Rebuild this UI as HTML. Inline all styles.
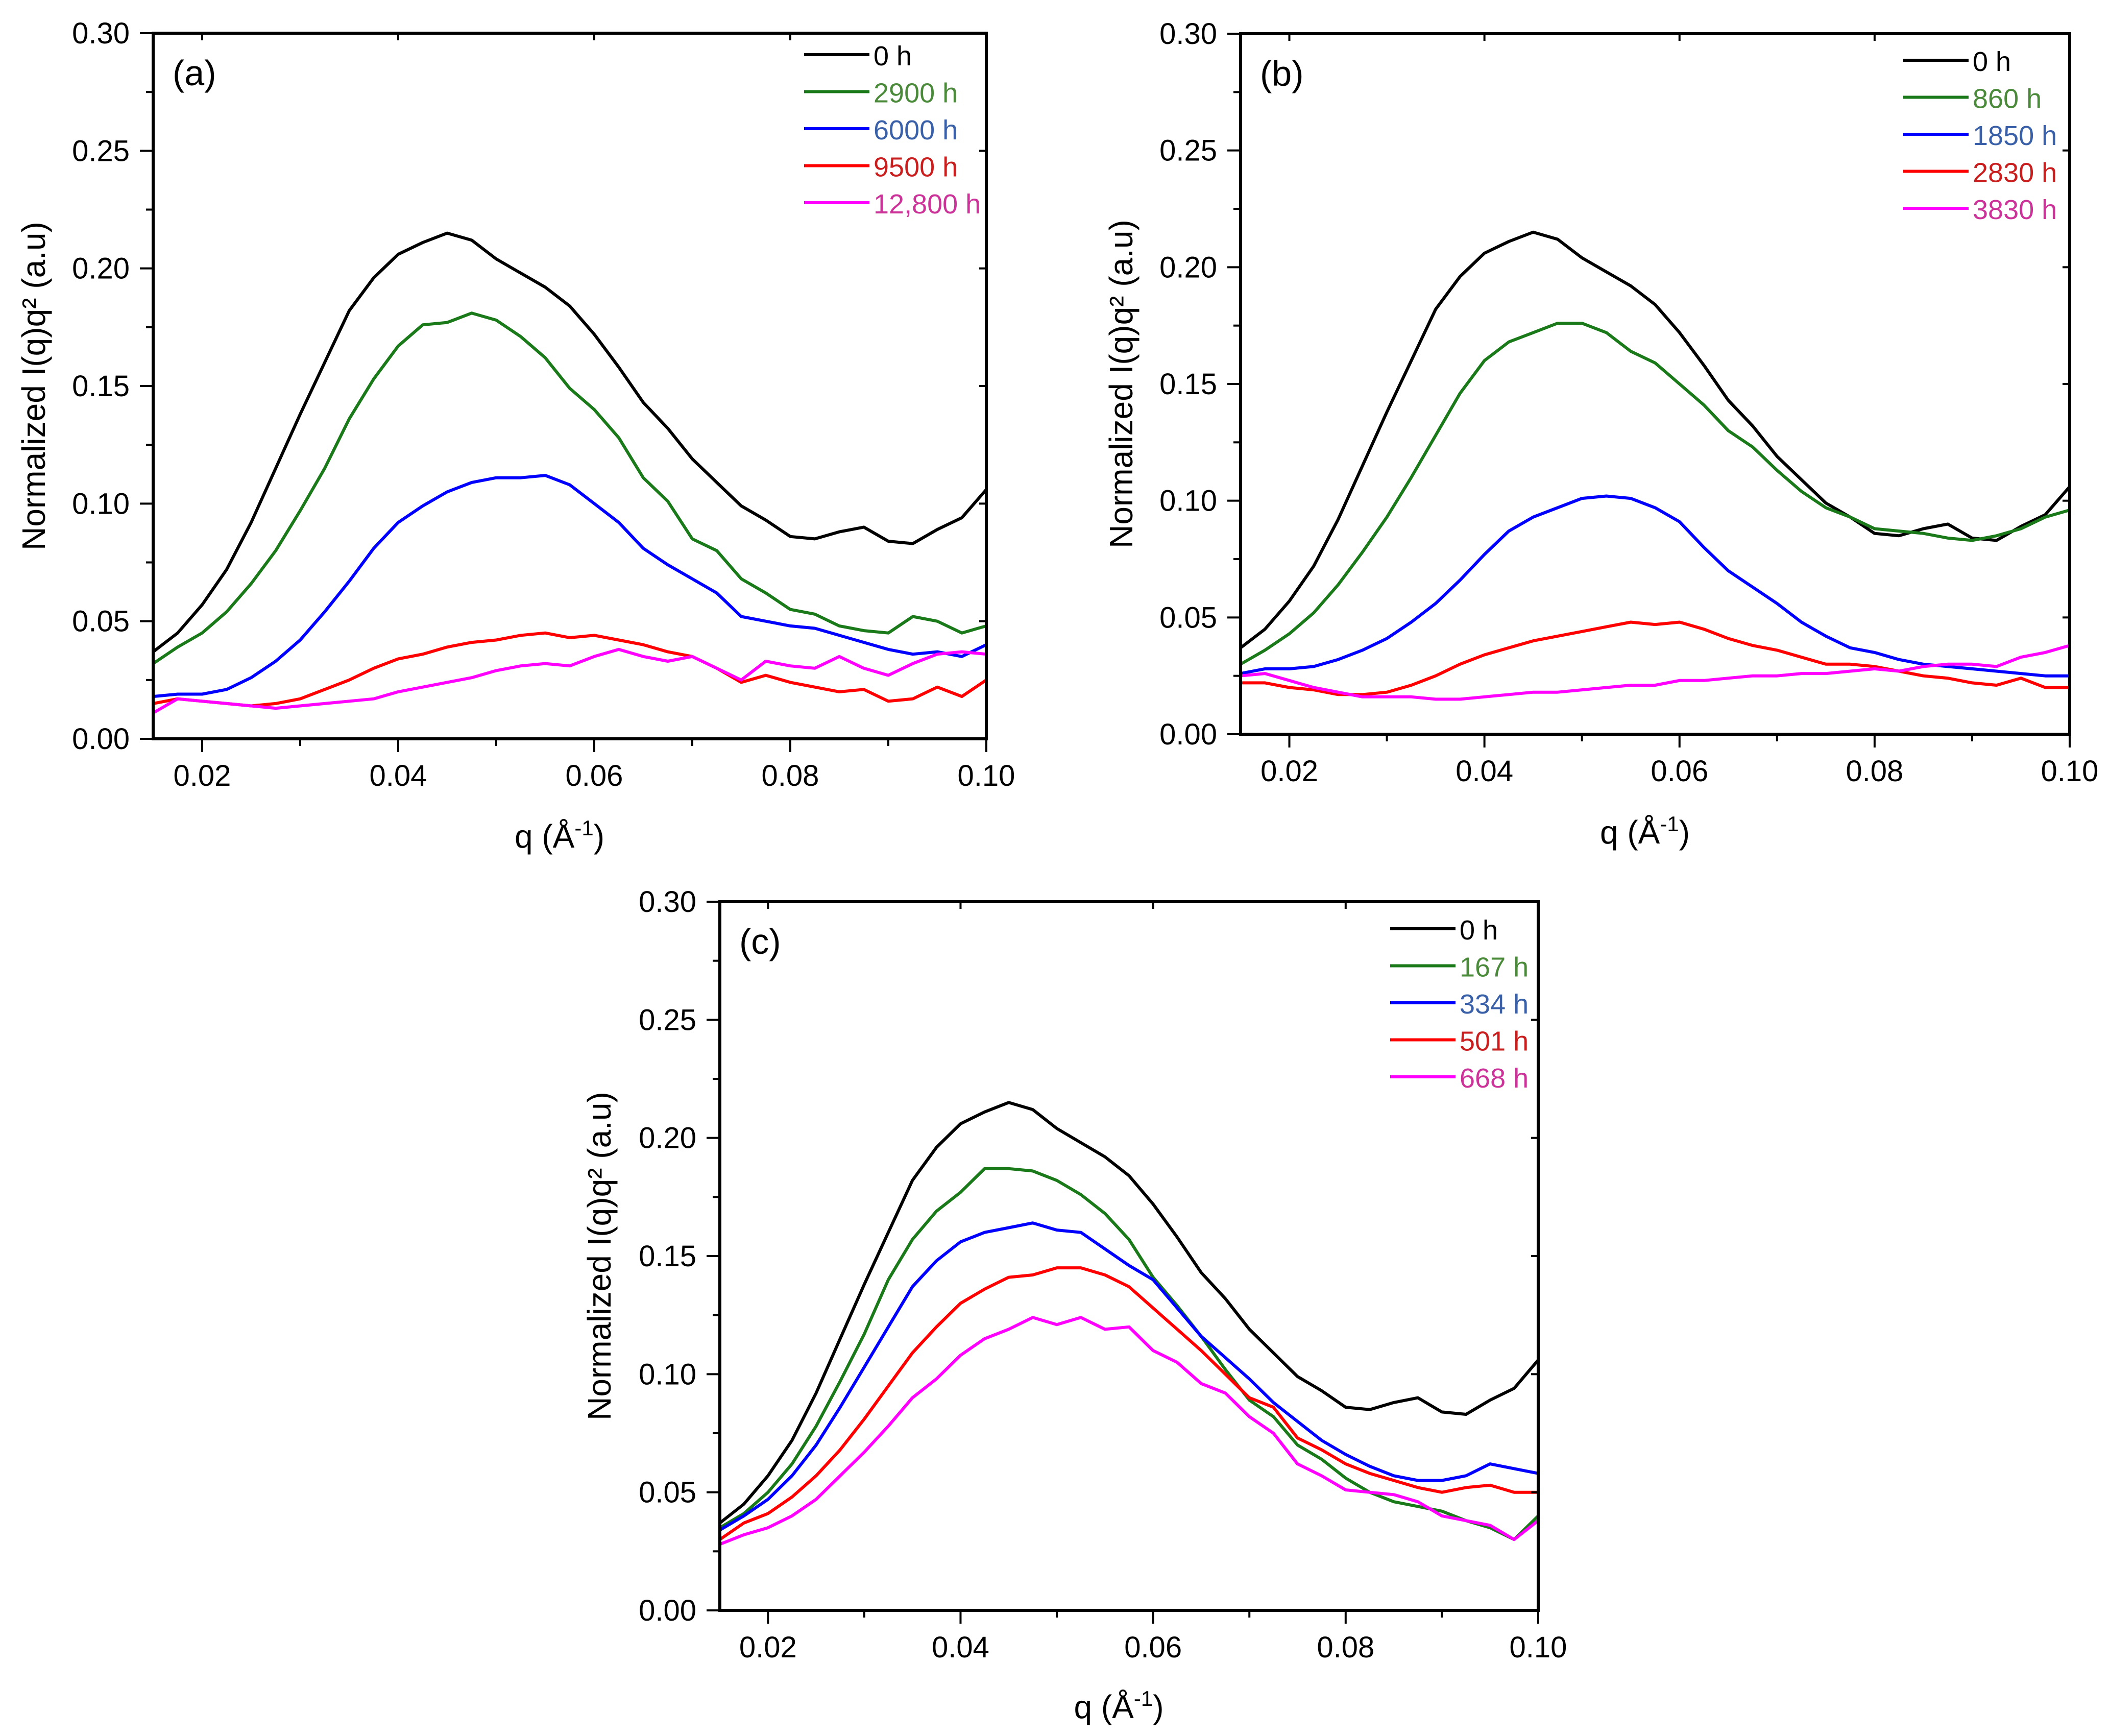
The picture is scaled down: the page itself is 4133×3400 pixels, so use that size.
<!DOCTYPE html>
<html><head><meta charset="utf-8"><style>
html,body{margin:0;padding:0;background:#fff;}
svg{display:block;font-family:"Liberation Sans",Arial,sans-serif;}
</style></head><body>
<svg id="fig" width="4133" height="3400" viewBox="0 0 4133 3400" xmlns="http://www.w3.org/2000/svg"></svg>
<script>
const qValues=[0.015,0.0175,0.02,0.0225,0.025,0.0275,0.03,0.0325,0.035,0.0375,0.04,0.0425,0.045,0.0475,0.05,0.0525,0.055,0.0575,0.06,0.0625,0.065,0.0675,0.07,0.0725,0.075,0.0775,0.08,0.0825,0.085,0.0875,0.09,0.0925,0.095,0.0975,0.10];
const xTicks=[0.02,0.04,0.06,0.08,0.10];
const xTickLabels=["0.02","0.04","0.06","0.08","0.10"];
const yTicks=[0,0.05,0.10,0.15,0.20,0.25,0.30];
const yTickLabels=["0.00","0.05","0.10","0.15","0.20","0.25","0.30"];
const base0h=[0.037,0.045,0.057,0.072,0.092,0.115,0.138,0.160,0.182,0.196,0.206,0.211,0.215,0.212,0.204,0.198,0.192,0.184,0.172,0.158,0.143,0.132,0.119,0.109,0.099,0.093,0.086,0.085,0.088,0.090,0.084,0.083,0.089,0.094,0.106];
const a2900=[0.032,0.039,0.045,0.054,0.066,0.080,0.097,0.115,0.136,0.153,0.167,0.176,0.177,0.181,0.178,0.171,0.162,0.149,0.140,0.128,0.111,0.101,0.085,0.080,0.068,0.062,0.055,0.053,0.048,0.046,0.045,0.052,0.050,0.045,0.048];
const a6000=[0.018,0.019,0.019,0.021,0.026,0.033,0.042,0.054,0.067,0.081,0.092,0.099,0.105,0.109,0.111,0.111,0.112,0.108,0.100,0.092,0.081,0.074,0.068,0.062,0.052,0.050,0.048,0.047,0.044,0.041,0.038,0.036,0.037,0.035,0.040];
const a9500=[0.015,0.017,0.016,0.015,0.014,0.015,0.017,0.021,0.025,0.030,0.034,0.036,0.039,0.041,0.042,0.044,0.045,0.043,0.044,0.042,0.040,0.037,0.035,0.030,0.024,0.027,0.024,0.022,0.020,0.021,0.016,0.017,0.022,0.018,0.025];
const a12800=[0.011,0.017,0.016,0.015,0.014,0.013,0.014,0.015,0.016,0.017,0.020,0.022,0.024,0.026,0.029,0.031,0.032,0.031,0.035,0.038,0.035,0.033,0.035,0.030,0.025,0.033,0.031,0.030,0.035,0.030,0.027,0.032,0.036,0.037,0.036];
const b860=[0.030,0.036,0.043,0.052,0.064,0.078,0.093,0.110,0.128,0.146,0.160,0.168,0.172,0.176,0.176,0.172,0.164,0.159,0.150,0.141,0.130,0.123,0.113,0.104,0.097,0.093,0.088,0.087,0.086,0.084,0.083,0.085,0.088,0.093,0.096];
const b1850=[0.026,0.028,0.028,0.029,0.032,0.036,0.041,0.048,0.056,0.066,0.077,0.087,0.093,0.097,0.101,0.102,0.101,0.097,0.091,0.080,0.070,0.063,0.056,0.048,0.042,0.037,0.035,0.032,0.030,0.029,0.028,0.027,0.026,0.025,0.025];
const b2830=[0.022,0.022,0.020,0.019,0.017,0.017,0.018,0.021,0.025,0.030,0.034,0.037,0.040,0.042,0.044,0.046,0.048,0.047,0.048,0.045,0.041,0.038,0.036,0.033,0.030,0.030,0.029,0.027,0.025,0.024,0.022,0.021,0.024,0.020,0.020];
const b3830=[0.025,0.026,0.023,0.020,0.018,0.016,0.016,0.016,0.015,0.015,0.016,0.017,0.018,0.018,0.019,0.020,0.021,0.021,0.023,0.023,0.024,0.025,0.025,0.026,0.026,0.027,0.028,0.027,0.029,0.030,0.030,0.029,0.033,0.035,0.038];
const c167=[0.035,0.041,0.050,0.062,0.078,0.097,0.117,0.140,0.157,0.169,0.177,0.187,0.187,0.186,0.182,0.176,0.168,0.157,0.141,0.129,0.116,0.102,0.089,0.082,0.070,0.064,0.056,0.050,0.046,0.044,0.042,0.038,0.035,0.030,0.040];
const c334=[0.034,0.040,0.047,0.057,0.070,0.086,0.103,0.120,0.137,0.148,0.156,0.160,0.162,0.164,0.161,0.160,0.153,0.146,0.140,0.128,0.116,0.107,0.098,0.088,0.080,0.072,0.066,0.061,0.057,0.055,0.055,0.057,0.062,0.060,0.058];
const c501=[0.030,0.037,0.041,0.048,0.057,0.068,0.081,0.095,0.109,0.120,0.130,0.136,0.141,0.142,0.145,0.145,0.142,0.137,0.128,0.119,0.110,0.100,0.090,0.086,0.073,0.068,0.062,0.058,0.055,0.052,0.050,0.052,0.053,0.050,0.050];
const c668=[0.028,0.032,0.035,0.040,0.047,0.057,0.067,0.078,0.090,0.098,0.108,0.115,0.119,0.124,0.121,0.124,0.119,0.120,0.110,0.105,0.096,0.092,0.082,0.075,0.062,0.057,0.051,0.050,0.049,0.046,0.040,0.038,0.036,0.030,0.038];
const labelsA=["0 h","2900 h","6000 h","9500 h","12,800 h"];
const labelsB=["0 h","860 h","1850 h","2830 h","3830 h"];
const labelsC=["0 h","167 h","334 h","501 h","668 h"];

const NS="http://www.w3.org/2000/svg";
const svg=document.getElementById('fig');
const lineColors=["#000000","#1a7a1a","#0000ff","#ff0000","#ff00ff"];
const textColors=["#000000","#4a8a3a","#3a60a8","#c81e1e","#cc3399"];
function mk(tag,attrs,parent){const e=document.createElementNS(NS,tag);for(const k in attrs)e.setAttribute(k,attrs[k]);(parent||svg).appendChild(e);return e;}

function panel(id,L,R,T,B,series,labels,letter,titleX,xTitleY,legX,legY){
  const g=mk('g',{});
  
  
  const xs=v=>L+(v-0.015)/(0.10-0.015)*(R-L);
  const ys=v=>B-(v/0.30)*(B-T);
  series.forEach((s,si)=>{
    let d='';
    s.forEach((v,i)=>{d+=(i?'L':'M')+xs(qValues[i]).toFixed(1)+' '+ys(v).toFixed(1);});
    const p=mk('path',{d:d,fill:'none',stroke:lineColors[si],'stroke-width':6,'stroke-linejoin':'round'},g);
    
    
  });
  const fr=mk('rect',{x:L,y:T,width:R-L,height:B-T,fill:'none',stroke:'#000','stroke-width':6},g);
  
  
  for(let v=0.02;v<=0.1001;v+=0.01){
    const major=Math.round(v*100)%2===0;
    const x=xs(v);
    mk('line',{x1:x,y1:B,x2:x,y2:B+(major?26:14),stroke:'#000','stroke-width':4},g);
    mk('line',{x1:x,y1:T,x2:x,y2:T+(major?14:0),stroke:'#000','stroke-width':4},g);
  }
  xTicks.forEach((v,i)=>{
    const t=mk('text',{x:xs(v),y:B+92,'font-size':58,'text-anchor':'middle',fill:'#000'},g);
    t.textContent=xTickLabels[i];
    
    
  });
  for(let k=0;k<=12;k++){
    const v=k*0.025;const y=ys(v);const major=k%2===0;
    mk('line',{x1:L,y1:y,x2:L-(major?26:14),y2:y,stroke:'#000','stroke-width':4},g);
    if(major) mk('line',{x1:R,y1:y,x2:R-14,y2:y,stroke:'#000','stroke-width':4},g);
  }
  yTicks.forEach((v,i)=>{
    const t=mk('text',{x:L-46,y:ys(v)+20,'font-size':58,'text-anchor':'end',fill:'#000'},g);
    t.textContent=yTickLabels[i];
    
    
  });
  const yt=mk('text',{x:0,y:0,'font-size':64,'text-anchor':'middle',fill:'#000',transform:'translate('+titleX+','+((T+B)/2)+') rotate(-90)'},g);
  yt.textContent='Normalized I(q)q² (a.u)';
  
  
  const xt=mk('text',{x:(L+R)/2-20,y:xTitleY,'font-size':64,'text-anchor':'middle',fill:'#000'},g);
  xt.innerHTML='q (Å<tspan dy="-24" font-size="42">-1</tspan><tspan dy="24">)</tspan>';
  
  
  const pl=mk('text',{x:L+38,y:T+102,'font-size':70,fill:'#000'},g);
  pl.textContent='('+letter+')';
  
  
  labels.forEach((lab,i)=>{
    const y=legY+i*72.5;
    const le=mk('g',{},g);
    
    
    mk('line',{x1:legX,y1:y,x2:legX+128,y2:y,stroke:lineColors[i],'stroke-width':6},le);
    const t=mk('text',{x:legX+136,y:y+21,'font-size':54,fill:textColors[i]},le);
    t.textContent=lab;
  });
}
panel('a',300,1932,65,1447,[base0h,a2900,a6000,a9500,a12800],labelsA,'a',88,1660,1575,107);
panel('b',2430,4054,66,1438,[base0h,b860,b1850,b2830,b3830],labelsB,'b',2218,1652,3728,118);
panel('c',1410,3013,1766,3154,[base0h,c167,c334,c501,c668],labelsC,'c',1196,3365,2723,1819);
</script>
</body></html>
